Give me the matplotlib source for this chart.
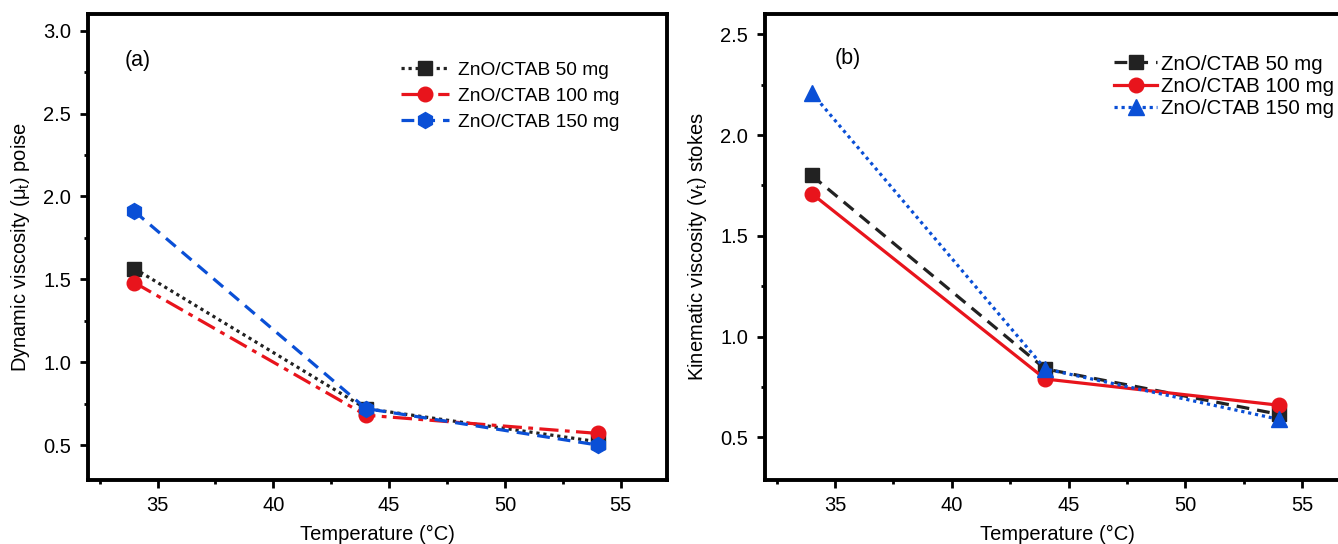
import matplotlib
matplotlib.use("Agg")
import matplotlib.pyplot as plt
from matplotlib.ticker import MultipleLocator

plt.rcParams["font.family"] = ["Liberation Sans", "DejaVu Sans"]

# -----------------------------
# Data
# -----------------------------
temps = [34, 44, 54]
labels = ["ZnO/CTAB 50 mg", "ZnO/CTAB 100 mg", "ZnO/CTAB 150 mg"]

dyn_50 = [1.565, 0.72, 0.52]
dyn_100 = [1.48, 0.68, 0.57]
dyn_150 = [1.91, 0.72, 0.50]

kin_50 = [1.80, 0.84, 0.615]
kin_100 = [1.71, 0.79, 0.66]
kin_150 = [2.21, 0.84, 0.59]

black = "#222222"
red = "#e8141c"
blue = "#0a4fd6"

fig = plt.figure(figsize=(13.38, 5.44), dpi=100)
ax_a = fig.add_axes([0.0658, 0.118, 0.4327, 0.856])
ax_b = fig.add_axes([0.5717, 0.118, 0.4365, 0.856])

# -----------------------------
# Panel (a) dynamic viscosity
# -----------------------------
ax_a.plot(temps, dyn_50, color=black, ls=(0, (1, 1.2)), lw=2.3, marker="s", ms=9.5, label=labels[0])
ax_a.plot(temps, dyn_100, color=red, ls=(0, (6, 2, 1.5, 2)), lw=2.3, marker="o", ms=10.5, label=labels[1])
ax_a.plot(temps, dyn_150, color=blue, ls=(0, (4, 2.5)), lw=2.3, marker="h", ms=11.5, label=labels[2])
ax_a.set_ylim(0.29, 3.1)
ax_a.set_ylabel("Dynamic viscosity (μ$_\\mathregular{t}$) poise", fontsize=14.5, labelpad=8)
ax_a.text(0.064, 0.90, "(a)", transform=ax_a.transAxes, fontsize=15.5, va="center")
ax_a.legend(loc="upper left", bbox_to_anchor=(0.54, 0.898), frameon=False, fontsize=13.8,
            handlelength=2.5, handletextpad=0.5, labelspacing=0.45, borderpad=0, borderaxespad=0)

# -----------------------------
# Panel (b) kinematic viscosity
# -----------------------------
ax_b.plot(temps, kin_50, color=black, ls=(0, (4, 2.5)), lw=2.3, marker="s", ms=9.5, label=labels[0])
ax_b.plot(temps, kin_100, color=red, ls="-", lw=2.3, marker="o", ms=10.5, label=labels[1])
ax_b.plot(temps, kin_150, color=blue, ls=(0, (1, 1.2)), lw=2.3, marker="^", ms=11.5, label=labels[2])
ax_b.set_ylim(0.29, 2.6)
ax_b.set_ylabel("Kinematic viscosity (v$_\\mathregular{t}$) stokes", fontsize=14.5, labelpad=8)
ax_b.text(0.12, 0.905, "(b)", transform=ax_b.transAxes, fontsize=15.5, va="center")
ax_b.legend(loc="upper left", bbox_to_anchor=(0.598, 0.913), frameon=False, fontsize=14.8,
            handlelength=2.1, handletextpad=0.2, labelspacing=0.15, borderpad=0, borderaxespad=0)

# -----------------------------
# Shared formatting
# -----------------------------
for ax in (ax_a, ax_b):
    ax.set_xlim(32, 57)
    ax.set_xlabel("Temperature (°C)", fontsize=14.5, labelpad=7)
    ax.xaxis.set_major_locator(MultipleLocator(5))
    ax.xaxis.set_minor_locator(MultipleLocator(2.5))
    ax.yaxis.set_major_locator(MultipleLocator(0.5))
    ax.yaxis.set_minor_locator(MultipleLocator(0.25))
    ax.tick_params(which="major", direction="out", length=6, width=2, labelsize=14.5, pad=6)
    ax.tick_params(which="minor", direction="out", length=3, width=2)
    ax.tick_params(top=False, right=False)
    for sp in ax.spines.values():
        sp.set_linewidth(2.8)
    ax.yaxis.set_major_formatter(plt.FormatStrFormatter("%.1f"))

fig.savefig("out.png", dpi=100)
